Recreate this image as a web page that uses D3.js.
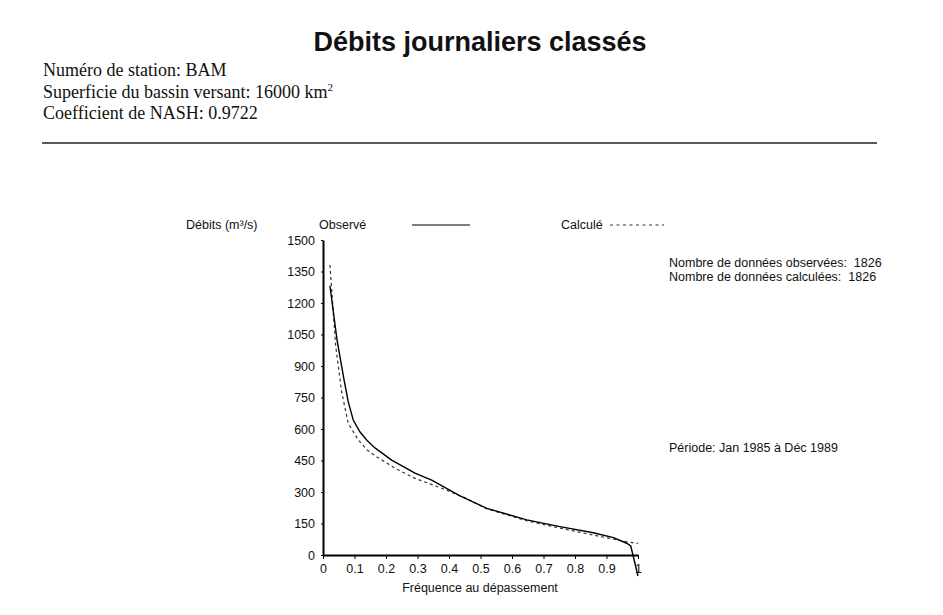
<!DOCTYPE html>
<html>
<head>
<meta charset="utf-8">
<script src="https://cdn.jsdelivr.net/npm/d3@7"></script>
<style>
  body { margin: 0; background: #fff; }
  text { fill: #111; white-space: pre; }
</style>
</head>
<body>
<script>
// courbe des debits classes
var freqObs = [0.022, 0.045, 0.067, 0.080, 0.096, 0.117, 0.140, 0.165, 0.218, 0.292, 0.345, 0.435, 0.520, 0.647, 0.752, 0.858, 0.922, 0.964, 0.977, 1.0];
var debObs  = [1282, 1020, 833, 730, 643, 587, 545, 510, 452, 390, 357, 282, 222, 167, 135, 106, 83, 56, 43, -100];

var freqCal = [0.022, 0.040, 0.059, 0.080, 0.112, 0.140, 0.170, 0.229, 0.292, 0.377, 0.451, 0.520, 0.647, 0.752, 0.858, 0.911, 0.964, 1.0];
var debCal  = [1381, 1000, 778, 627, 548, 500, 468, 413, 365, 318, 272, 220, 163, 128, 95, 79, 63, 55];

var xTicks = [0, 0.1, 0.2, 0.3, 0.4, 0.5, 0.6, 0.7, 0.8, 0.9, 1];
var yTicks = [0, 150, 300, 450, 600, 750, 900, 1050, 1200, 1350, 1500];

var infoLines = ["Numéro de station: BAM", "Superficie du bassin versant: 16000 km", "Coefficient de NASH: 0.9722"];

var svg = d3.select("body")
            .append("svg")
            .attr("width", 943)
            .attr("height", 615);

var sans = "Liberation Sans, Arial, sans-serif";
var serif = "Liberation Serif, Times New Roman, serif";

svg.append("text")
    .attr("x", 480)
    .attr("y", 51)
    .attr("text-anchor", "middle")
    .attr("font-family", sans)
    .attr("font-weight", "bold")
    .attr("font-size", 27)
    .text("Débits journaliers classés");

infoLines.forEach(function(t, i) {
    var tx = svg.append("text")
        .attr("x", 43)
        .attr("y", 76 + i * 21.5)
        .attr("font-family", serif)
        .attr("font-size", 18)
        .text(t);
    if (i == 1) {
        tx.append("tspan").attr("dy", -7).attr("font-size", 11).text("2");
    }
});

svg.append("line")
    .attr("x1", 42).attr("x2", 877)
    .attr("y1", 143).attr("y2", 143)
    .attr("stroke", "#222")
    .attr("stroke-width", 1.3);

var x = d3.scaleLinear().domain([0, 1]).range([323, 638]);
var y = d3.scaleLinear().domain([0, 1500]).range([555, 240]);

var xAxis = svg.append("g")
    .attr("transform", "translate(0,555)")
    .call(d3.axisBottom(x).tickValues(xTicks).tickSize(4).tickSizeOuter(0)
        .tickFormat(d3.format("")));
xAxis.select(".domain").attr("stroke-width", 2).attr("stroke", "#000");
xAxis.selectAll("text").attr("font-family", sans).attr("font-size", 12.5).attr("dy", "0.9em").attr("fill", "#111");

var yAxis = svg.append("g")
    .attr("transform", "translate(323,0)")
    .call(d3.axisLeft(y).tickValues(yTicks).tickSize(2).tickSizeOuter(0)
        .tickFormat(d3.format("d")));
yAxis.select(".domain").attr("stroke-width", 2).attr("stroke", "#000");
yAxis.selectAll("text").attr("font-family", sans).attr("font-size", 12.5).attr("x", -8).attr("fill", "#111");

var line = d3.line()
    .x(function(d) { return x(d[0]); })
    .y(function(d) { return y(d[1]); });

svg.append("path")
    .datum(d3.zip(freqCal, debCal))
    .attr("d", line)
    .attr("fill", "none")
    .attr("stroke", "#333")
    .attr("stroke-width", 1.2)
    .attr("stroke-dasharray", "3,3");

svg.append("path")
    .datum(d3.zip(freqObs, debObs))
    .attr("d", line)
    .attr("fill", "none")
    .attr("stroke", "#000")
    .attr("stroke-width", 1.4);

// legende et textes
function label(t, lx, ly) {
    return svg.append("text")
        .attr("x", lx).attr("y", ly)
        .attr("font-family", sans)
        .attr("font-size", 12.5)
        .text(t);
}

label("Débits (m³/s)", 186, 229);
label("Observé", 319, 229);
svg.append("line")
    .attr("x1", 412).attr("x2", 470)
    .attr("y1", 225).attr("y2", 225)
    .attr("stroke", "#000").attr("stroke-width", 1.2);
label("Calculé", 561, 229);
svg.append("line")
    .attr("x1", 610).attr("x2", 664)
    .attr("y1", 225).attr("y2", 225)
    .attr("stroke", "#333").attr("stroke-width", 1)
    .attr("stroke-dasharray", "3,3.5");

label("Nombre de données observées:  1826", 669, 267);
label("Nombre de données calculées:  1826", 669, 281);
label("Période: Jan 1985 à Déc 1989", 669, 452);

svg.append("text")
    .attr("x", 480).attr("y", 592)
    .attr("text-anchor", "middle")
    .attr("font-family", sans)
    .attr("font-size", 12.5)
    .text("Fréquence au dépassement");
</script>
</body>
</html>
